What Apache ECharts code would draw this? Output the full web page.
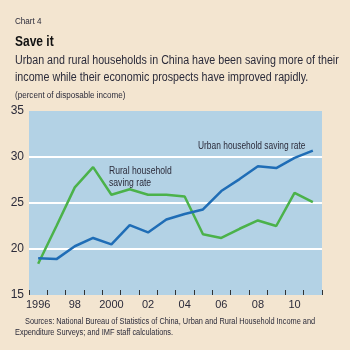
<!DOCTYPE html>
<html>
<head>
<meta charset="utf-8">
<script src="https://cdn.jsdelivr.net/npm/echarts@6/dist/echarts.min.js"></script>
<style>
  html, body { margin: 0; padding: 0; background: #f3e5d0; }
  #main { width: 350px; height: 350px; }
</style>
</head>
<body>
<div id="main"></div>
<script>
// saving rates, percent of disposable income
const years = ['1996', '1997', '1998', '1999', '2000', '2001', '2002', '2003',
  '2004', '2005', '2006', '2007', '2008', '2009', '2010', '2011'];
const yearLabels = ['1996', '97', '98', '99', '2000', '01', '02', '03',
  '04', '05', '06', '07', '08', '09', '10', '11'];
const urban = [19.0, 18.9, 20.3, 21.2, 20.5, 22.6, 21.8, 23.2,
  23.8, 24.3, 26.3, 27.6, 29.0, 28.8, 29.9, 30.7];
const rural = [18.4, 22.5, 26.7, 28.9, 25.9, 26.5, 25.9, 25.9,
  25.7, 21.6, 21.2, 22.2, 23.1, 22.5, 26.1, 25.1];

const font = '"Liberation Sans", Arial, sans-serif';
const ink = '#2b2b3a';

// condensed-looking text: squeeze horizontally
function label(x, y, text, size, sx, extra) {
  return {
    type: 'text', x: x, y: y, scaleX: sx,
    style: Object.assign({
      text: text, fontSize: size, fill: ink, fontFamily: font,
      textVerticalAlign: 'top'
    }, extra || {})
  };
}

const chart = echarts.init(document.getElementById('main'));
chart.setOption({
  backgroundColor: '#f3e5d0',
  animation: false,
  textStyle: { fontFamily: font },
  grid: {
    left: 29,
    right: 28,
    top: 111,
    bottom: 55,
    show: true,
    backgroundColor: '#b3d2e5',
    borderWidth: 0
  },
  xAxis: {
    type: 'category',
    data: years,
    boundaryGap: true,
    axisLine: { show: false },
    axisTick: {
      show: true,
      inside: true,
      interval: 0,
      length: 5,
      lineStyle: { color: '#333', width: 1 }
    },
    axisLabel: {
      interval: 1,
      margin: 4,
      fontSize: 11,
      color: ink,
      fontFamily: font,
      formatter: (v, i) => yearLabels[i]
    }
  },
  yAxis: {
    type: 'value',
    min: 15,
    max: 35,
    interval: 5,
    axisLine: { show: false },
    axisTick: { show: false },
    axisLabel: {
      margin: 5,
      fontSize: 12,
      color: ink,
      fontFamily: font
    },
    splitLine: {
      show: true,
      lineStyle: {
        color: ['transparent', '#ffffff', '#ffffff', '#ffffff', 'transparent'],
        width: 2
      }
    }
  },
  series: [
    {
      name: 'Urban household saving rate',
      type: 'line',
      data: urban,
      showSymbol: false,
      lineStyle: { color: '#1f6db6', width: 2.5 },
      itemStyle: { color: '#1f6db6' },
      z: 3
    },
    {
      name: 'Rural household saving rate',
      type: 'line',
      data: rural,
      showSymbol: false,
      lineStyle: { color: '#4bb24a', width: 2.5 },
      itemStyle: { color: '#4bb24a' },
      z: 2
    }
  ],
  graphic: [
    label(15, 17, 'Chart 4', 9, 0.9),
    label(15, 34, 'Save it', 15, 0.8, { fontWeight: 'bold', fill: '#111' }),
    label(15, 52, 'Urban and rural households in China have been saving more of their\nincome while their economic prospects have improved rapidly.',
      12.5, 0.855, { lineHeight: 17 }),
    label(15, 91, '(percent of disposable income)', 8.5, 0.95),
    label(198, 141, 'Urban household saving rate', 10.5, 0.8),
    label(109, 165, 'Rural household\nsaving rate', 10.5, 0.82, { lineHeight: 12 }),
    label(25, 317, 'Sources: National Bureau of Statistics of China, Urban and Rural Household Income and',
      8.5, 0.87),
    label(15, 328, 'Expenditure Surveys; and IMF staff calculations.', 8.5, 0.87)
  ]
});
</script>
</body>
</html>
